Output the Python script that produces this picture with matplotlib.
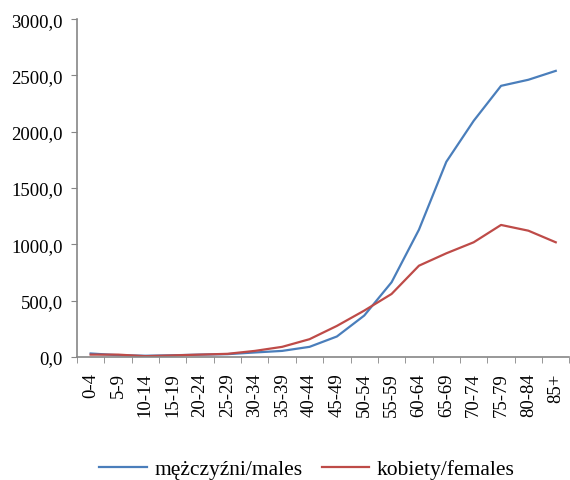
import matplotlib
matplotlib.use("Agg")
import matplotlib.pyplot as plt
from matplotlib.ticker import FuncFormatter, FixedLocator
import numpy as np

plt.rcParams['font.family'] = ['Liberation Serif', 'DejaVu Serif']

groups = ['0-4', '5-9', '10-14', '15-19', '20-24', '25-29', '30-34', '35-39',
          '40-44', '45-49', '50-54', '55-59', '60-64', '65-69', '70-74',
          '75-79', '80-84', '85+']
males = [30, 15, 10, 14, 20, 24, 39, 53, 89, 181, 367, 663, 1130, 1733,
         2097, 2408, 2462, 2541]
females = [20, 20, 6, 13, 20, 27, 53, 89, 157, 275, 411, 559, 810, 920,
           1018, 1172, 1121, 1018]

fig = plt.figure(figsize=(5.70, 4.81), dpi=100)
ax = fig.add_axes([0.135, 0.256, 0.864, 0.702])

x = np.arange(len(groups))
ax.plot(x, males, color='#4a7ebb', lw=1.6, label='mężczyźni/males')
ax.plot(x, females, color='#be4b48', lw=1.6, label='kobiety/females')

ax.set_xlim(-0.5, len(groups) - 0.5)
ax.set_ylim(0, 3000)
ax.set_yticks(np.arange(0, 3001, 500))
ax.yaxis.set_major_formatter(FuncFormatter(lambda v, p: f'{v:.1f}'.replace('.', ',')))
ax.set_xticks(x)
ax.set_xticklabels(groups, rotation=90, fontsize=13.5)
ax.xaxis.set_minor_locator(FixedLocator(np.arange(-0.5, len(groups), 1)))
ax.tick_params(axis='x', which='major', length=0, pad=11)
ax.tick_params(axis='x', which='minor', length=4, color='#868686', direction='out')
ax.tick_params(axis='y', length=4, color='#868686', labelsize=13.5, direction='out', pad=6)

for s in ['top', 'right']:
    ax.spines[s].set_visible(False)
ax.spines['left'].set_color('#868686')
ax.spines['bottom'].set_color('#868686')
ax.spines['left'].set_linewidth(1.2)
ax.spines['bottom'].set_linewidth(1.2)

ax.legend(loc='upper center', bbox_to_anchor=(0.467, -0.245), ncol=2, frameon=False,
          fontsize=15.5, handlelength=2.2, handletextpad=0.35, columnspacing=0.9)

fig.savefig('out.png', dpi=100)
